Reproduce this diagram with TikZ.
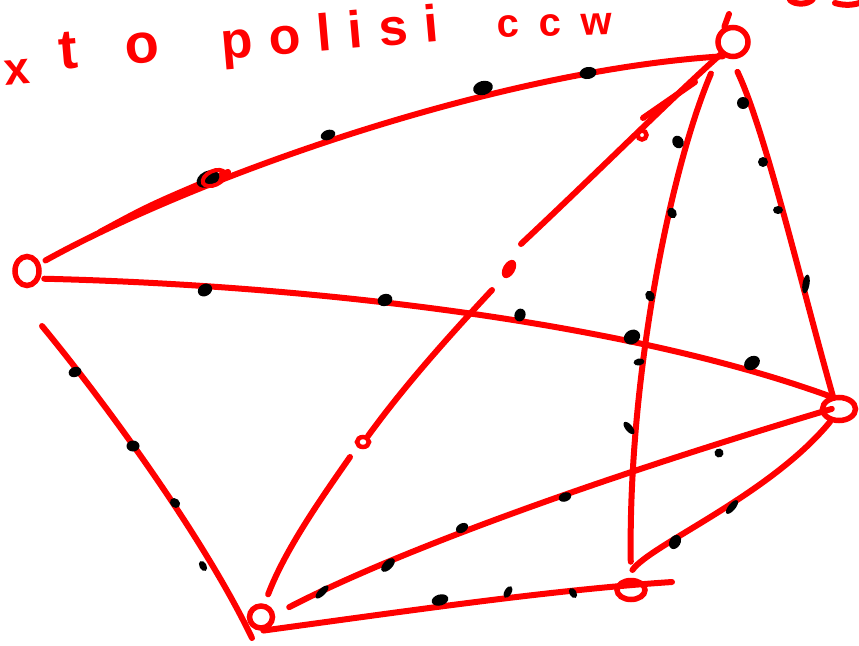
\documentclass[tikz,border=0pt]{standalone}
\usepackage{fontspec}
\setmainfont{Liberation Sans}
\usetikzlibrary{shapes.geometric,calc}
\definecolor{penred}{RGB}{255,0,0}
\newcommand\inkdot[4]{\fill[black,shift={(#1)},rotate=#2] (0,0) ellipse[x radius=#3pt,y radius=#4pt];}
\begin{document}
\begin{tikzpicture}[x=1pt,y=-1pt,
  edge/.style={draw=penred,line width=6pt,line cap=round,line join=round},
  vtx/.style={ellipse,draw=penred,line width=5.5pt,inner sep=0pt},
  txt/.style={text=penred,inner sep=0pt,anchor=base west}]
\useasboundingbox (0,0) rectangle (859,645);

% handwritten title
\node[txt,font={\fontsize{46}{46}\selectfont\bfseries},rotate=5] (w0) at (5,86) {x};
\node[txt,font={\fontsize{56}{56}\selectfont\bfseries\addfontfeatures{LetterSpace=85}},rotate=5] (w1) at (60,70) {to};
\node[txt,font={\fontsize{52}{52}\selectfont\bfseries\addfontfeatures{LetterSpace=32}},rotate=5] (w2) at (222,60) {polisi};
\node[txt,font={\fontsize{40}{40}\selectfont\bfseries\addfontfeatures{LetterSpace=50}},rotate=2] (w3) at (497,38) {ccw};
\draw[edge] (790,0) .. controls (795,5) and (808,5) .. (813,-1);
\draw[edge] (835,3) .. controls (845,6) and (855,5) .. (862,2);

% vertices
\node[vtx,minimum width=30pt,minimum height=29pt] (A) at (733,42) {};
\node[vtx,minimum width=24pt,minimum height=29pt] (B) at (27,271) {};
\node[vtx,minimum width=33pt,minimum height=23pt] (C) at (839,409) {};
\node[vtx,minimum width=23pt,minimum height=22pt] (D) at (261,617) {};
\node[vtx,minimum width=28pt,minimum height=19pt] (E) at (631,590) {};
\draw[edge] (729,14) -- (A.120);

% B - A
\draw[edge,shorten <=6pt] (B.30) .. controls (200,175) and (500,70) .. (A.235);
\draw[edge] (100,232) .. controls (150,205) .. (228,172);

% A - D (broken stroke)
\coordinate (ad1) at (521,244);
\coordinate (ad2) at (492,290);
\coordinate (ad3) at (368,436);
\coordinate (ad4) at (350,457);
\draw[edge] (A.225) .. controls (680,90) and (600,170) .. (ad1);
\draw[edge] (643,118) -- (695,82);
\draw[penred,line width=4.5pt] (642,135) circle[radius=4.5pt];
\fill[penred,rotate around={60:(509,269)}] (509,269) ellipse[x radius=10pt,y radius=6pt];
\draw[edge] (ad2) .. controls (450,335) and (405,385) .. (ad3);
\draw[penred,line width=4.5pt] (363,442) ellipse[x radius=6pt,y radius=5pt];
\draw[edge,shorten >=10pt] (ad4) .. controls (320,500) and (285,550) .. (D.75);

% A - E
\draw[edge,shorten <=22pt,shorten >=16pt] (A.-140) .. controls (670,170) and (628,380) .. (E.90);
% A - C
\draw[edge,shorten <=14pt] (A.-95) .. controls (765,130) and (800,280) .. (C.115);
% B - C
\draw[edge,shorten <=4pt] (B.-30) .. controls (300,285) and (620,320) .. (C.125);
% left stroke towards D
\coordinate (l0) at (42,326);
\coordinate (l1) at (252,638);
\draw[edge] (l0) .. controls (95,390) and (200,530) .. (l1);
% D - C
\draw[edge,shorten <=16pt,shorten >=-12pt] (D.10) .. controls (380,560) and (560,490) .. (C.190);
% E - C
\draw[edge,shorten <=10pt] (E.110) .. controls (650,545) and (770,495) .. (C.235);
% D - E
\coordinate (et) at (672,582);
\draw[edge] (D.-80) .. controls (400,612) and (550,590) .. (et);

% black ink marks
\inkdot{208,179}{25}{12}{8}
\draw[penred,line width=4pt,rotate around={25:(214,178)}] (214,178) ellipse[x radius=12pt,y radius=7pt];
\inkdot{328,135}{20}{7.5}{5}
\inkdot{483,88}{15}{10}{7}
\inkdot{588,73}{10}{8.5}{6}
\inkdot{205,290}{30}{7.5}{6}
\inkdot{385,300}{20}{7.5}{6}
\inkdot{520,315}{70}{6.5}{5.5}
\inkdot{632,337}{30}{8.5}{7}
\inkdot{752,363}{35}{8.5}{6.5}
\inkdot{678,142}{-60}{6.5}{5.5}
\inkdot{672,213}{-60}{5.5}{4.5}
\inkdot{650,296}{-60}{5.5}{4.5}
\inkdot{639,362}{10}{5.5}{3.5}
\inkdot{629,428}{-50}{7.5}{3.5}
\inkdot{743,103}{0}{6}{6}
\inkdot{763,162}{0}{5}{5}
\inkdot{778,210}{0}{5}{4}
\inkdot{806,284}{80}{9.5}{3.5}
\inkdot{719,453}{-60}{4.5}{4.5}
\inkdot{565,497}{20}{6.5}{4.5}
\inkdot{462,528}{30}{6.5}{4.5}
\inkdot{388,565}{45}{8.5}{4.5}
\inkdot{322,592}{45}{8.5}{3.5}
\inkdot{675,542}{60}{7.5}{5.5}
\inkdot{732,507}{50}{8.5}{3.5}
\inkdot{440,600}{15}{8.5}{5.5}
\inkdot{508,592}{60}{6.5}{3.5}
\inkdot{573,593}{-60}{5.5}{3.5}
\inkdot{75,372}{20}{6.5}{5}
\inkdot{133,446}{0}{6.5}{5.5}
\inkdot{175,503}{-40}{5.5}{4.5}
\inkdot{203,566}{-60}{5.5}{3.5}
\end{tikzpicture}
\end{document}
